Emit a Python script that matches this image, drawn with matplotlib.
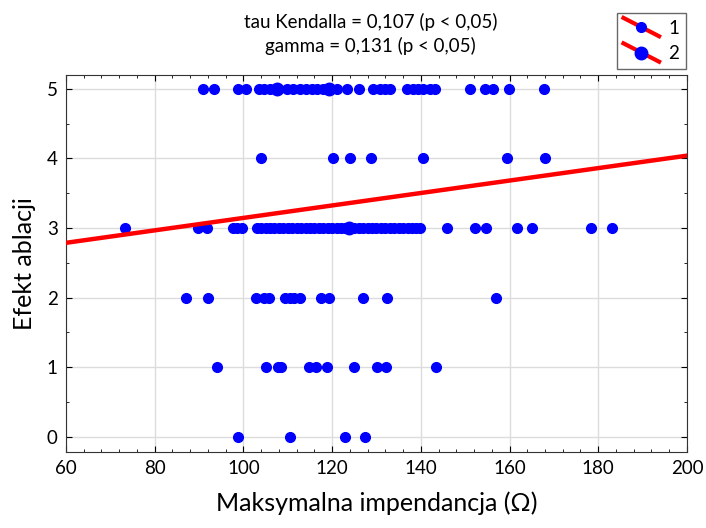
import numpy as np
import matplotlib
matplotlib.use('Agg')
import matplotlib.pyplot as plt
from matplotlib.lines import Line2D
from matplotlib.legend_handler import HandlerLine2D

plt.rcParams['font.family'] = ['Lato', 'DejaVu Sans']

# dane: (impedancja, efekt ablacji)
x_5 = [90.9, 93.4, 98.8, 100.6, 103.5, 104.6, 106.0, 107.8, 109.8, 111.2, 112.8, 114.2,
       115.5, 116.6, 117.9, 119.1, 121.1, 123.3, 126.1, 129.2, 130.8, 131.9, 133.0,
       136.9, 138.2, 139.4, 140.5, 142.1, 143.2, 151.1, 154.5, 156.3, 159.9, 167.8]
x_4 = [103.9, 120.1, 124.1, 128.7, 140.5, 159.4, 167.9]
x_3 = [73.3, 89.8, 91.9, 97.7, 98.6, 99.6, 103.0, 104.0, 105.0, 106.0, 107.0, 108.0,
       109.0, 110.0, 111.0, 112.0, 113.0, 114.0, 115.0, 116.0, 117.0, 118.0, 119.0,
       120.0, 121.0, 122.0, 123.0, 125.0, 126.0, 127.0, 128.0, 129.0, 130.0, 131.0,
       132.0, 133.0, 134.0, 135.0, 136.0, 137.0, 138.0, 139.0, 139.8, 145.8, 152.2,
       154.8, 161.6, 165.0, 178.3, 183.0]
x_2 = [87.1, 92.1, 102.9, 104.6, 105.8, 109.3, 110.4, 111.5, 112.8, 117.6, 119.4,
       126.9, 132.4, 156.9]
x_1 = [94.1, 105.2, 107.7, 108.4, 114.8, 116.4, 118.8, 125.0, 130.1, 132.2, 143.4]
x_0 = [98.7, 110.6, 123.0, 127.4]

# seria 2 (większe znaczniki)
x_big = [107.5, 119.3, 123.9]
y_big = [5, 5, 3]

# prosta regresji
intercept = 2.25
slope = 0.00895

xs = x_0 + x_1 + x_2 + x_3 + x_4 + x_5
ys = ([0] * len(x_0) + [1] * len(x_1) + [2] * len(x_2) + [3] * len(x_3)
      + [4] * len(x_4) + [5] * len(x_5))


class HandlerDiag(HandlerLine2D):
    def create_artists(self, legend, orig_handle, xdescent, ydescent,
                       width, height, fontsize, trans):
        x0, x1 = -xdescent, -xdescent + width
        y0, y1 = -ydescent + height * 1.2, -ydescent - height * 0.2
        line = Line2D([x0, x1], [y0, y1], color='red', lw=3)
        mk = Line2D([(x0 + x1) / 2], [(y0 + y1) / 2], marker='o', color='blue',
                    markersize=orig_handle.get_markersize(), linestyle='none')
        line.set_transform(trans)
        mk.set_transform(trans)
        return [line, mk]


fig = plt.figure(figsize=(7.06, 5.28), dpi=100)
ax = fig.add_axes([0.0935, 0.144, 0.8795, 0.714])

ax.grid(True, color='#dcdcdc', lw=1)
ax.set_axisbelow(True)

ax.plot(xs, ys, 'o', color='blue', markersize=7, zorder=3)
ax.plot(x_big, y_big, 'o', color='blue', markersize=9, zorder=3)

lx = np.array([60, 200])
ax.plot(lx, intercept + slope * lx, color='red', lw=3.2, zorder=4)

ax.set_xlim(60, 200)
ax.set_ylim(-0.22, 5.2)
ax.set_xticks(np.arange(60, 201, 20))
ax.set_xticks(np.arange(60, 201, 4), minor=True)
ax.set_yticks(range(0, 6))
ax.set_yticks(np.arange(-0.0, 5.01, 0.5), minor=True)
ax.tick_params(which='both', direction='in', top=True, right=True, labelsize=13.5)
ax.tick_params(which='major', length=4, pad=6)
ax.tick_params(which='minor', length=2)
for s in ax.spines.values():
    s.set_color('#333333')

ax.set_xlabel('Maksymalna impendancja (Ω)', fontsize=18, labelpad=10)
ax.set_ylabel('Efekt ablacji', fontsize=18, labelpad=8)

fig.text(0.525, 0.958, 'tau Kendalla = 0,107 (p < 0,05)', ha='center', va='center', fontsize=13.5)
fig.text(0.525, 0.913, 'gamma = 0,131 (p < 0,05)', ha='center', va='center', fontsize=13.5)

h1 = Line2D([], [], color='red', marker='o', markersize=7)
h2 = Line2D([], [], color='red', marker='o', markersize=9)
leg = fig.legend([h1, h2], ['1', '2'], loc='upper right', bbox_to_anchor=(0.985, 0.993),
                 handler_map={Line2D: HandlerDiag()}, fontsize=13.5, frameon=True,
                 fancybox=False, edgecolor='#444444', handlelength=1.9,
                 handletextpad=0.5, borderpad=0.35, labelspacing=0.45)
leg.get_frame().set_linewidth(1)

fig.savefig('out.png', dpi=100)
